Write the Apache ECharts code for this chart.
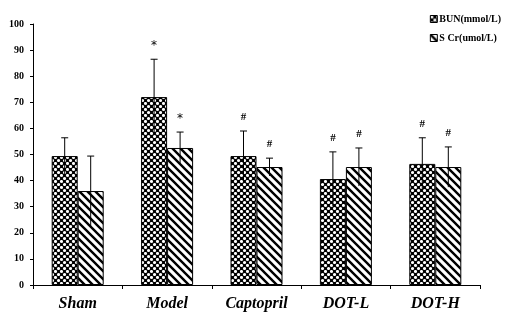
<!DOCTYPE html>
<html>
<head>
<meta charset="utf-8">
<script src="https://cdn.jsdelivr.net/npm/echarts@6/dist/echarts.min.js"></script>
<style>
  html, body { margin: 0; padding: 0; background: #fff; }
  #main { width: 509px; height: 317px; }
</style>
</head>
<body>
<div id="main"></div>
<script>
  // 数据
  var categories = ['Sham', 'Model', 'Captopril', 'DOT-L', 'DOT-H']
  var bunMean = [49.4, 72, 49.4, 40.6, 46.4]
  var bunSd = [7, 14.5, 9.6, 10.4, 10]
  var scrMean = [36, 52.5, 45.2, 45.2, 45.2]
  var scrSd = [13.4, 6.1, 3.4, 7.3, 7.7]
  var bunMark = ['', '*', '#', '#', '#']
  var scrMark = ['', '*', '#', '#', '#']

  // 填充图案
  function dotPattern() {
    var c = document.createElement('canvas')
    c.width = 6
    c.height = 6
    var ctx = c.getContext('2d')
    ctx.fillStyle = '#000'
    ctx.fillRect(0, 0, 6, 6)
    ctx.fillStyle = '#fff'
    var pts = [[1.5, 1.5], [4.5, 4.5], [7.5, 1.5], [-1.5, 4.5]]
    pts.forEach(function(p) {
      ctx.beginPath()
      ctx.arc(p[0], p[1], 1.55, 0, Math.PI * 2)
      ctx.fill()
    })
    return c
  }
  function hatchPattern() {
    var c = document.createElement('canvas')
    c.width = 8
    c.height = 8
    var ctx = c.getContext('2d')
    ctx.fillStyle = '#fff'
    ctx.fillRect(0, 0, 8, 8)
    ctx.strokeStyle = '#000'
    ctx.lineWidth = 2.4
    ctx.beginPath()
    for (var k = -8; k <= 8; k += 8) {
      ctx.moveTo(k - 2, -2)
      ctx.lineTo(k + 10, 10)
    }
    ctx.stroke()
    return c
  }
  var dotFill = { image: dotPattern(), repeat: 'repeat' }
  var hatchFill = { image: hatchPattern(), repeat: 'repeat' }

  var font = 'Liberation Serif'

  function errData(mean, sd, mark) {
    return mean.map(function(m, i) { return [i, m, sd[i], mark[i]] })
  }

  function errSeries(name, data, offset) {
    return {
      type: 'custom',
      name: name + '_err',
      z: 5,
      silent: true,
      data: data,
      encode: { x: 0, y: 1 },
      renderItem: function(params, api) {
        var i = api.value(0)
        var m = api.value(1)
        var sd = api.value(2)
        var mark = data[params.dataIndex][3]
        var top = api.coord([i, m + sd])
        var bot = api.coord([i, m - sd])
        var x = top[0] + offset
        var children = [
          { type: 'line', shape: { x1: x, y1: top[1], x2: x, y2: bot[1] }, style: { stroke: '#000', lineWidth: 1 } },
          { type: 'line', shape: { x1: x - 3.5, y1: top[1], x2: x + 3.5, y2: top[1] }, style: { stroke: '#000', lineWidth: 1 } }
        ]
        if (mark) {
          var star = mark === '*'
          children.push({
            type: 'text',
            style: {
              text: mark, x: x, y: top[1] - (star ? 7 : 8),
              align: 'center', verticalAlign: 'bottom',
              font: (star ? '12px "DejaVu Sans"' : 'bold 11px "Liberation Serif"'), fill: '#000'
            }
          })
        }
        return { type: 'group', children: children }
      }
    }
  }

  var chart = echarts.init(document.getElementById('main'))
  chart.setOption({
    animation: false,
    backgroundColor: '#fff',
    grid: { left: 33, right: 29, top: 24, bottom: 32 },
    legend: {
      orient: 'vertical',
      right: 3,
      top: 9,
      icon: 'rect',
      itemWidth: 7,
      itemHeight: 7,
      itemGap: 9,
      data: ['BUN(mmol/L)', 'S Cr(umol/L)'],
      textStyle: { fontFamily: font, fontWeight: 'bold', fontSize: 10, color: '#000', padding: [0, 0, 0, -3] },
      itemStyle: { borderColor: '#000', borderWidth: 1 }
    },
    xAxis: {
      type: 'category',
      data: categories,
      axisLine: { lineStyle: { color: '#000', width: 1 } },
      axisTick: { show: true, length: 4, lineStyle: { color: '#000' } },
      axisLabel: {
        fontFamily: font, fontWeight: 'bold', fontStyle: 'italic',
        fontSize: 16, color: '#000', margin: 11
      }
    },
    yAxis: {
      type: 'value',
      min: 0,
      max: 100,
      interval: 10,
      splitLine: { show: false },
      axisLine: { show: true, lineStyle: { color: '#000', width: 1 } },
      axisTick: { show: true, length: 3, lineStyle: { color: '#000' } },
      axisLabel: { fontFamily: font, fontWeight: 'bold', fontSize: 10, color: '#000', margin: 9 }
    },
    series: [
      {
        name: 'BUN(mmol/L)',
        type: 'bar',
        data: bunMean,
        barWidth: 26,
        barGap: '0%',
        itemStyle: { color: dotFill, borderColor: '#000', borderWidth: 1 }
      },
      {
        name: 'S Cr(umol/L)',
        type: 'bar',
        data: scrMean,
        barWidth: 26,
        barGap: '0%',
        itemStyle: { color: hatchFill, borderColor: '#000', borderWidth: 1 }
      },
      errSeries('BUN', errData(bunMean, bunSd, bunMark), -13),
      errSeries('SCr', errData(scrMean, scrSd, scrMark), 13)
    ]
  })
</script>
</body>
</html>
